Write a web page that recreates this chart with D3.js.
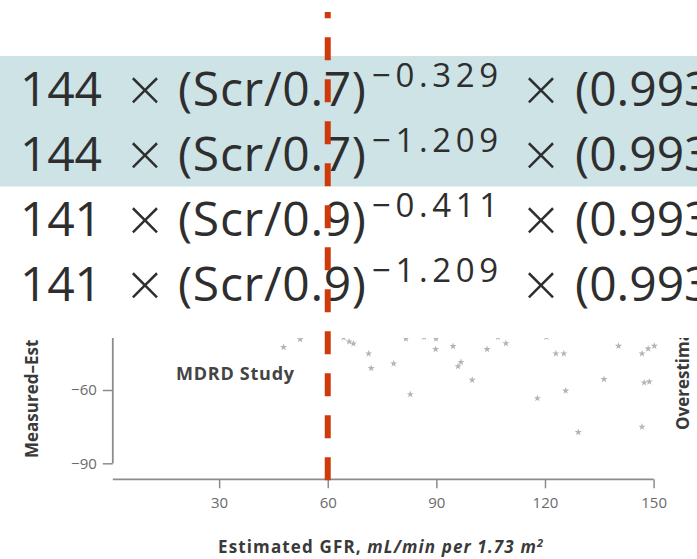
<!DOCTYPE html>
<html>
<head>
<meta charset="utf-8">
<script src="https://cdn.jsdelivr.net/npm/d3@7"></script>
<style>
  html, body { margin: 0; padding: 0; background: #fff; }
  svg { display: block; }
</style>
</head>
<body>
<svg id="chart" width="697" height="559"></svg>
<script>
// ---- data ----
const formulaCoef = ["144", "144", "141", "141"];
const formulaScr = ["0.7", "0.7", "0.9", "0.9"];
const formulaExp = ["−0.329", "−1.209", "−0.411", "−1.209"];
const formulaShaded = [true, true, false, false];
const formulaTail = "(0.993";

const xTicks = [30, 60, 90, 120, 150];
const yTicks = [-90, -60];
const cutoffGFR = 60;

const pointsX = [47.8, 52.4, 64.4, 65.9, 67.1, 71.3, 72.0, 78.2, 81.6, 82.8, 86.6, 89.9, 89.8, 94.6, 96.8, 96.0, 99.9,
                 104.0, 107.0, 109.2, 120.4, 117.9, 123.0, 125.2, 125.7, 129.2, 136.3, 140.3, 146.8, 148.5, 150.2, 147.4, 148.8, 146.8];
const pointsY = [-42.5, -39.3, -38.5, -40.2, -41.0, -45.1, -51.1, -49.2, -39.0, -61.8, -38.3, -39.0, -43.3, -42.1, -48.6, -50.3, -55.9,
                 -43.3, -38.3, -40.9, -38.3, -63.4, -45.1, -45.1, -60.3, -77.3, -55.6, -42.0, -45.1, -43.1, -42.0, -57.0, -56.6, -75.1];

const studyLabel = "MDRD Study";
const xTitleMain = "Estimated GFR, ";
const xTitleUnit = "mL/min per 1.73 m";
const yTitle = "Measured–Est";      // visible (cropped) part of the axis title
const rightTitle = "Overestima";    // visible (cropped) part of the side title

// ---- drawing ----
const svg = d3.select("#chart");
const W = 697, H = 559;
const textColor = "#2e2e2e";

// formula rows
const rowTop0 = 56, rowH = 65, baseOff = 50;
const rows = formulaCoef.map((c, i) => ({coef: c, scr: formulaScr[i], exp: formulaExp[i], shaded: formulaShaded[i], i}));
const rowG = svg.append("g").attr("class", "formulas");
rowG.selectAll("rect.band").data(rows.filter(r => r.shaded)).join("rect")
  .attr("x", 0).attr("width", W)
  .attr("y", d => rowTop0 + d.i * rowH).attr("height", rowH + 0.5)
  .attr("fill", "#cde3e6");

const rg = rowG.selectAll("g.row").data(rows).join("g")
  .attr("transform", d => `translate(0,${rowTop0 + d.i * rowH + baseOff})`)
  .attr("font-family", "'Open Sans', sans-serif")
  .attr("fill", textColor);

rg.append("text").attr("x", 20).attr("font-size", 48)
  .attr("textLength", 82).attr("lengthAdjust", "spacing").text(d => d.coef);
rg.append("text").attr("x", 124).attr("font-size", 50).attr("font-family", "'DejaVu Sans', sans-serif")
  .attr("font-weight", 300).text("×");
rg.append("text").attr("x", 178).attr("font-size", 48)
  .attr("textLength", 188).attr("lengthAdjust", "spacing").text(d => `(Scr/${d.scr})`);
rg.append("text").attr("x", 372).attr("y", -19).attr("font-size", 33)
  .attr("textLength", 126).attr("lengthAdjust", "spacing").text(d => d.exp);
rg.append("text").attr("x", 520).attr("font-size", 50).attr("font-family", "'DejaVu Sans', sans-serif")
  .attr("font-weight", 300).text("×");
rg.append("text").attr("x", 575).attr("font-size", 48).text(formulaTail);

// chart
const x = d3.scaleLinear().domain([0, 150]).range([110.5, 653.6]);
const y = d3.scaleLinear().domain([-90, -30]).range([463.3, 316.7]);
const axisY = 479.3;
const yAxisX = x(0) + 2.3;

const defs = svg.append("defs");
defs.append("clipPath").attr("id", "plotclip").append("rect")
  .attr("x", 0).attr("y", 338).attr("width", W).attr("height", H - 338);

const chart = svg.append("g").attr("clip-path", "url(#plotclip)");

// points
const star = d3.symbol().type(d3.symbolStar).size(16);
chart.append("g").selectAll("path").data(pointsX.map((v, i) => [v, pointsY[i]])).join("path")
  .attr("d", star)
  .attr("transform", d => `translate(${x(d[0])},${y(d[1])})`)
  .attr("fill", "#b3b3b3");

// y axis
const yAx = chart.append("g").attr("transform", `translate(${yAxisX},0)`)
  .call(d3.axisLeft(y).tickValues(yTicks).tickSize(10).tickPadding(6).tickFormat(d => "−" + Math.abs(d)));
yAx.select(".domain").remove();
yAx.append("line").attr("x1", 0).attr("x2", 0).attr("y1", y(-90)).attr("y2", y(-30))
  .attr("stroke", "#8c8c8c").attr("stroke-width", 1.8);
yAx.selectAll(".tick line").attr("stroke", "#8c8c8c").attr("stroke-width", 1.5);
yAx.selectAll(".tick text").attr("fill", "#6a6a6a").attr("font-size", 15)
  .attr("font-family", "'Open Sans', sans-serif");

// x axis
const xAx = chart.append("g").attr("transform", `translate(0,${axisY})`)
  .call(d3.axisBottom(x).tickValues(xTicks).tickSize(9).tickSizeOuter(0));
xAx.select(".domain").attr("d", `M${yAxisX},0H${x(150)}`).attr("stroke", "#8c8c8c").attr("stroke-width", 1.8);
xAx.selectAll(".tick line").attr("stroke", "#8c8c8c").attr("stroke-width", 1.5);
xAx.selectAll(".tick text").attr("y", 29).attr("dy", 0).attr("fill", "#6a6a6a").attr("font-size", 15)
  .attr("font-family", "'Open Sans', sans-serif");

// labels
chart.append("text").attr("x", 176).attr("y", 380)
  .attr("font-family", "'Open Sans', sans-serif").attr("font-weight", 700).attr("font-size", 18)
  .attr("fill", "#444").attr("textLength", 118).attr("lengthAdjust", "spacing").text(studyLabel);

chart.append("text").attr("transform", "translate(38,458) rotate(-90)")
  .attr("font-family", "'Open Sans', sans-serif").attr("font-weight", 700).attr("font-size", 17)
  .attr("fill", "#3a3a3a").text(yTitle);

chart.append("text").attr("transform", "translate(689,430) rotate(-90)")
  .attr("font-family", "'Open Sans', sans-serif").attr("font-weight", 700).attr("font-size", 17)
  .attr("fill", "#3a3a3a").text(rightTitle);

const xt = svg.append("text").attr("x", 218).attr("y", 553)
  .attr("font-family", "'Open Sans', sans-serif").attr("font-weight", 700).attr("font-size", 17)
  .attr("fill", "#3a3a3a").attr("textLength", 325).attr("lengthAdjust", "spacing");
xt.append("tspan").text(xTitleMain);
xt.append("tspan").attr("font-style", "italic").text(xTitleUnit);
xt.append("tspan").attr("font-style", "italic").attr("font-size", 11).attr("dy", -6).text("2");

// cutoff dashed line (drawn bottom to top)
svg.append("line")
  .attr("x1", x(cutoffGFR)).attr("x2", x(cutoffGFR))
  .attr("y1", axisY + 1).attr("y2", 12)
  .attr("stroke", "#cf3a0c").attr("stroke-width", 6)
  .attr("stroke-dasharray", "23,19");
</script>
</body>
</html>
